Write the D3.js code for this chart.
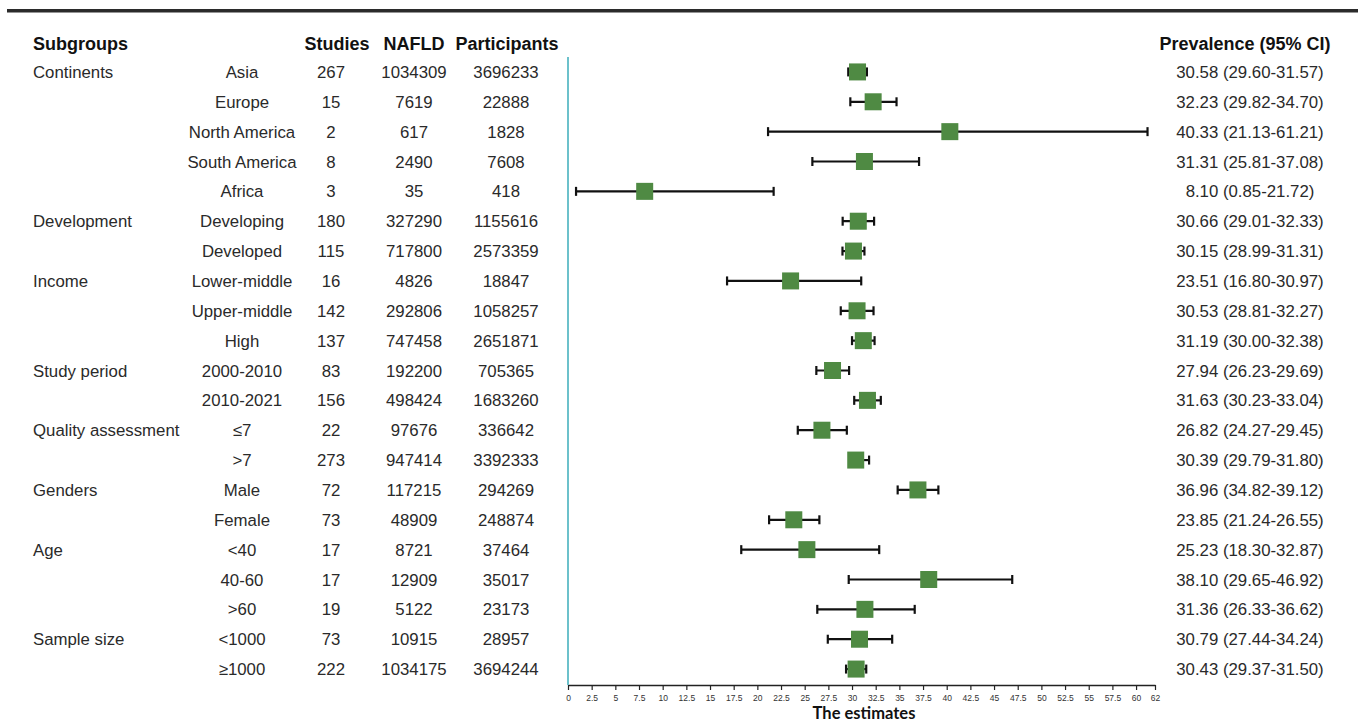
<!DOCTYPE html>
<html>
<head>
<meta charset="utf-8">
<script src="https://cdn.jsdelivr.net/npm/d3@7"></script>
<style>
  body { margin: 0; background: #fff; }
  svg { display: block; }
</style>
</head>
<body>
<div id="chart"></div>
<script>
// data
var groups = ['Continents', '', '', '', '', 'Development', '', 'Income', '', '', 'Study period', '',
  'Quality assessment', '', 'Genders', '', 'Age', '', '', 'Sample size', '']
var subgroups = ['Asia', 'Europe', 'North America', 'South America', 'Africa', 'Developing', 'Developed',
  'Lower-middle', 'Upper-middle', 'High', '2000-2010', '2010-2021', '≤7', '>7', 'Male', 'Female',
  '<40', '40-60', '>60', '<1000', '≥1000']
var studies = [267, 15, 2, 8, 3, 180, 115, 16, 142, 137, 83, 156, 22, 273, 72, 73, 17, 17, 19, 73, 222]
var nafld = [1034309, 7619, 617, 2490, 35, 327290, 717800, 4826, 292806, 747458, 192200, 498424,
  97676, 947414, 117215, 48909, 8721, 12909, 5122, 10915, 1034175]
var participants = [3696233, 22888, 1828, 7608, 418, 1155616, 2573359, 18847, 1058257, 2651871,
  705365, 1683260, 336642, 3392333, 294269, 248874, 37464, 35017, 23173, 28957, 3694244]
var est = [30.58, 32.23, 40.33, 31.31, 8.10, 30.66, 30.15, 23.51, 30.53, 31.19, 27.94, 31.63,
  26.82, 30.39, 36.96, 23.85, 25.23, 38.10, 31.36, 30.79, 30.43]
var lo = [29.60, 29.82, 21.13, 25.81, 0.85, 29.01, 28.99, 16.80, 28.81, 30.00, 26.23, 30.23,
  24.27, 29.79, 34.82, 21.24, 18.30, 29.65, 26.33, 27.44, 29.37]
var hi = [31.57, 34.70, 61.21, 37.08, 21.72, 32.33, 31.31, 30.97, 32.27, 32.38, 29.69, 33.04,
  29.45, 31.80, 39.12, 26.55, 32.87, 46.92, 36.62, 34.24, 31.50]
var tickValues = d3.range(0, 62, 2.5).concat([62])

var width = 1358, height = 722
var rows = subgroups.map((s, i) => ({
  group: groups[i], sub: s, studies: studies[i], nafld: nafld[i], part: participants[i],
  est: est[i], lo: lo[i], hi: hi[i]
}))

var svg = d3.select('#chart').append('svg')
  .attr('width', width).attr('height', height)
  .style('font-family', 'Liberation Sans, Arial, sans-serif')

// top rule
svg.append('rect').attr('x', 7).attr('y', 9).attr('width', width - 7).attr('height', 3.5).attr('fill', '#2b2b2b')

var x = d3.scaleLinear().domain([0, 62]).range([568, 1155])
var y = d3.scaleBand().domain(d3.range(rows.length)).range([57, 684]).paddingInner(0)

var cols = [
  {x: 33, hx: 33, anchor: 'start', head: 'Subgroups', f: d => d.group},
  {x: 242, hx: 242, anchor: 'middle', head: '', f: d => d.sub},
  {x: 331, hx: 337, anchor: 'middle', head: 'Studies', f: d => d.studies},
  {x: 414, hx: 414, anchor: 'middle', head: 'NAFLD', f: d => d.nafld},
  {x: 506, hx: 507, anchor: 'middle', head: 'Participants', f: d => d.part},
  {x: 1250, hx: 1245, anchor: 'middle', head: 'Prevalence (95% CI)',
    f: d => `${d.est.toFixed(2)} (${d.lo.toFixed(2)}-${d.hi.toFixed(2)})`}
]

cols.forEach(c => {
  svg.append('text').text(c.head)
    .attr('x', c.hx).attr('y', 50)
    .attr('text-anchor', c.anchor)
    .attr('font-size', 18).attr('font-weight', 'bold').attr('fill', '#111')
  svg.append('g').selectAll('text').data(rows).join('text')
    .text(c.f)
    .attr('x', c.x).attr('y', (d, i) => y(i) + y.bandwidth() / 2 + 6)
    .attr('text-anchor', c.anchor)
    .attr('font-size', 16.8).attr('fill', '#2a2a2a')
})

// axis
var axis = svg.append('g').attr('transform', 'translate(0,685)')
  .call(d3.axisBottom(x).tickValues(tickValues).tickSize(5).tickSizeOuter(0)
    .tickFormat(d => d3.format('~g')(d)))
axis.select('.domain').attr('stroke', '#222').attr('stroke-width', 1.5)
axis.selectAll('.tick line').attr('stroke', '#222').attr('stroke-width', 1.2)
axis.selectAll('.tick text').attr('font-size', 8.5).attr('fill', '#333').attr('dy', '0.9em')
  .style('font-family', 'Liberation Sans, Arial, sans-serif')

svg.append('text').text('The estimates')
  .attr('x', 864).attr('y', 719)
  .attr('text-anchor', 'middle')
  .attr('font-size', 16.5).attr('font-weight', 'bold').attr('fill', '#111')
  .style('font-family', 'Lato, sans-serif')

// reference line at 0
svg.append('line')
  .attr('x1', x(0)).attr('x2', x(0)).attr('y1', 57).attr('y2', 685)
  .attr('stroke', '#6cc1cb').attr('stroke-width', 2)

// error bars and squares
var marks = svg.append('g').selectAll('g').data(rows).join('g')
  .attr('transform', (d, i) => `translate(0,${y(i) + y.bandwidth() / 2})`)

marks.append('line')
  .attr('x1', d => x(d.lo)).attr('x2', d => x(d.hi))
  .attr('stroke', '#111').attr('stroke-width', 2.2)
marks.selectAll('line.cap').data(d => [d.lo, d.hi]).join('line')
  .attr('class', 'cap')
  .attr('x1', v => x(v)).attr('x2', v => x(v))
  .attr('y1', -4.5).attr('y2', 4.5)
  .attr('stroke', '#111').attr('stroke-width', 2.2)
marks.append('rect')
  .attr('x', d => x(d.est) - 8.5).attr('y', -8.5)
  .attr('width', 17).attr('height', 17)
  .attr('fill', '#4f8a43')
</script>
</body>
</html>
